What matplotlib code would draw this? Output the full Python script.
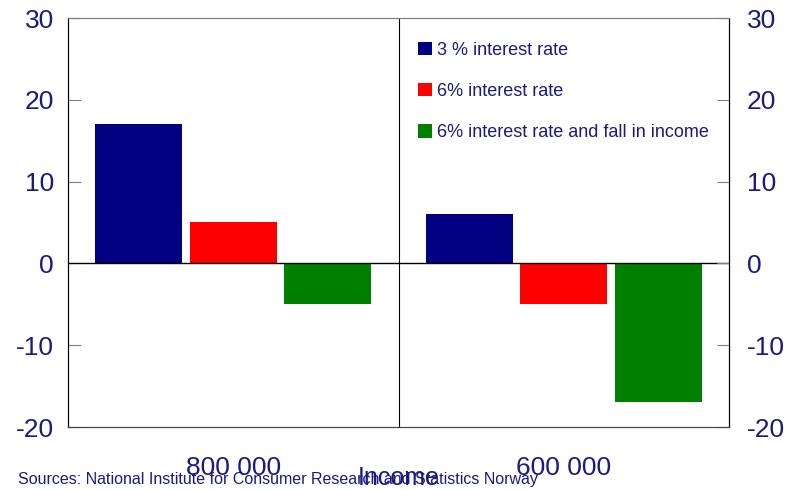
import matplotlib
matplotlib.use("Agg")
import matplotlib.pyplot as plt
import numpy as np

plt.rcParams['font.family'] = ['Liberation Sans', 'DejaVu Sans']
plt.rcParams['axes.unicode_minus'] = False

# data
incomes = ["800 000", "600 000"]
series_names = ["3 % interest rate", "6% interest rate",
                "6% interest rate and fall in income"]
rate3 = [17, 6]
rate6 = [5, -5]
rate6_fall = [-5, -17]
colors = ["#000080", "#ff0000", "#008000"]
text_col = "#1a1a80"

fig = plt.figure(figsize=(7.92, 4.9), dpi=100)
ax = fig.add_axes([68 / 792, 63 / 490, 661 / 792, 409 / 490])

x = np.arange(len(incomes))
step = 0.286
width = 0.262
for i, (vals, name) in enumerate(zip([rate3, rate6, rate6_fall], series_names)):
    ax.bar(x + (i - 1) * step, vals, width, color=colors[i], label=name, zorder=2)

ax.axhline(0, color="black", lw=1, zorder=3)
ax.axvline(0.5, color="black", lw=0.8, zorder=3)

ax.set_xlim(-0.5, 1.5)
ax.set_ylim(-20, 30)
ax.set_yticks(range(-20, 31, 10))
ax.tick_params(axis="y", direction="in", length=9, color="gray",
               labelsize=19, labelcolor=text_col, pad=10)
ax.set_xticks(x)
ax.set_xticklabels(incomes)
ax.tick_params(axis="x", length=0, labelsize=19, labelcolor=text_col, pad=21)
ax.set_xlabel("Income", fontsize=18, color=text_col)
ax.xaxis.set_label_coords(0.5, -0.095)

ax2 = ax.twinx()
ax2.set_ylim(ax.get_ylim())
ax2.set_yticks(range(-20, 31, 10))
ax2.tick_params(axis="y", direction="in", length=9, color="gray",
                labelsize=19, labelcolor=text_col, pad=13)

for a in (ax, ax2):
    a.spines["top"].set_color("gray")
    a.spines["bottom"].set_color("#444444")
    a.spines["left"].set_color("black")
    a.spines["right"].set_color("black")

leg = ax.legend(loc="upper left", bbox_to_anchor=(0.505, 0.982), frameon=False,
                fontsize=13, handlelength=0.75, handleheight=0.75,
                handletextpad=0.3, labelspacing=1.35)
for t in leg.get_texts():
    t.set_color(text_col)

fig.text(18 / 792, 1 - 479 / 490, "Sources: National Institute for Consumer Research and Statistics Norway",
         fontsize=11.5, color=text_col, va="center", ha="left")

fig.savefig("out.png", dpi=100)
